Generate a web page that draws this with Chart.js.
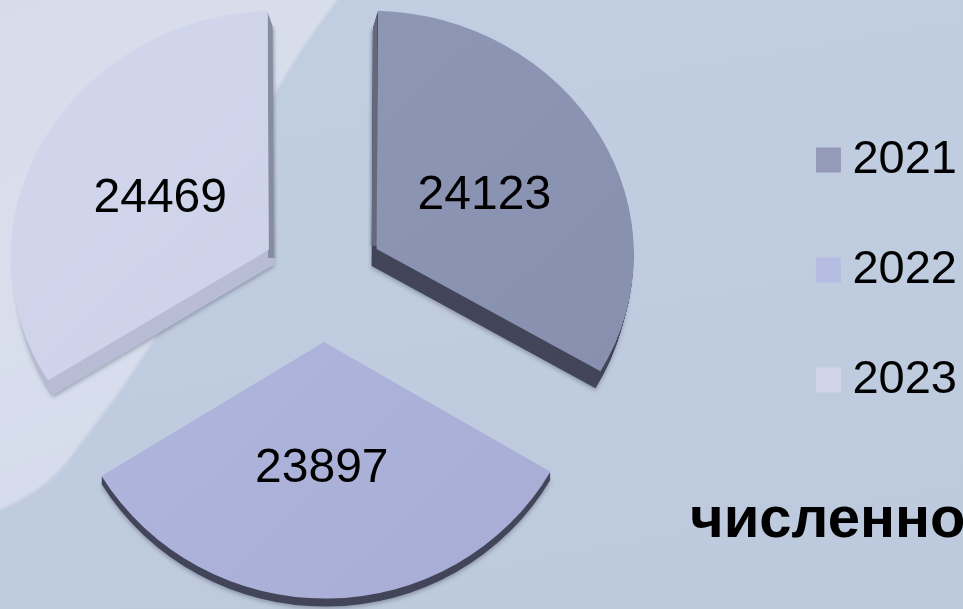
<!DOCTYPE html>
<html lang="ru">
<head>
  <meta charset="UTF-8" />
  <title>Численность</title>
  <script src="https://cdn.jsdelivr.net/npm/chart.js"></script>
  <style>
    html, body {
      margin: 0;
      width: 963px;
      height: 609px;
      overflow: hidden;
      background: linear-gradient(170deg, #c2cee1, #bfcbdf 60%, #bdc9dd);
      font-family: 'Liberation Sans', sans-serif;
    }
    #soft {
      position: absolute;
      left: -10px;
      top: -10px;
      filter: blur(1.5px);
    }
    #swoosh {
      width: 420px;
      height: 540px;
      background: linear-gradient(160deg, #d6dcea, #d8deec 45%, #d3daea);
      clip-path: path('M0 0 L355 0 L347 10 C332 30 316 52 303 73 C294 88 290 95 285 103 C245 180 200 300 157 360 C145 378 135 395 123 410 C113 424 103 438 93 450 C85 462 76 474 67 483 C55 495 43 503 30 510 C23 514 16 517 10 520 L0 525 Z');
    }
    #wrap { position: absolute; left: 0; top: 0; }
    #note {
      position: absolute;
      left: 690px;
      top: 489px;
      width: 400px;
      font-size: 58px;
      font-weight: bold;
      line-height: 56px;
      color: #000;
      white-space: nowrap;
    }
  </style>
</head>
<body>
  <div id="soft"><div id="swoosh"></div></div>
  <div id="wrap"><canvas id="pie" width="967" height="609"></canvas></div>
  <div id="note">численность</div>

  <script>
    const years = ['2021', '2022', '2023'];
    const values = [24123, 23897, 24469];
    const sliceColors = ['#8e96b6', '#b0b7de', '#d0d5ec'];
    const sliceColorsEnd = ['#8890af', '#a8aed6', '#cbd0e8'];
    const legendColors = ['#939bb9', '#b5bde2', '#cfd4ea'];
    const wallColors = ['#43465a', '#43465a', '#b8bcd4'];

    // the picture is a fake 3d pie: every slice has its own skew/squash and a side wall
    const pieX = 323, pieY = 280;
    const explode = 62;
    const widen = [1, 1.02, 1];
    const skew = [0.0226, 0.005, -0.03];
    const squash = [0.926, 1, 0.926];
    const wallShift = [[-5, 17], [0, 8], [5, 15]];

    function paintArc(arc, ctx, fill) {
      const real = arc.options;
      arc.options = Object.assign(Object.create(real), { backgroundColor: fill });
      arc.draw(ctx);
      arc.options = real;
    }

    function placeSlice(ctx, arc, i) {
      const mid = (arc.startAngle + arc.endAngle) / 2;
      ctx.translate(pieX + Math.cos(mid) * explode, pieY + Math.sin(mid) * explode);
      ctx.transform(widen[i], skew[i], 0, squash[i], 0, 0);
      ctx.translate(-arc.x - Math.cos(mid) * explode, -arc.y - Math.sin(mid) * explode);
    }

    function drawWall(ctx, arc, i, color) {
      const steps = wallShift[i][1];
      for (let s = steps; s > 0; s--) {
        ctx.save();
        ctx.translate(wallShift[i][0] * s / steps, s);
        if (s === steps) {
          ctx.shadowColor = 'rgba(40,45,70,0.35)';
          ctx.shadowBlur = 4;
          ctx.shadowOffsetY = 2;
        }
        placeSlice(ctx, arc, i);
        paintArc(arc, ctx, color);
        ctx.restore();
      }
    }

    // vertical edges of the outer slices are softer than the rest of the wall
    function drawStripe(ctx, arc, i, left, width, bottom, color) {
      ctx.save();
      ctx.beginPath();
      ctx.rect(left, 0, width, bottom);
      ctx.clip();
      drawWall(ctx, arc, i, color);
      ctx.restore();
    }

    const tiltPlugin = {
      id: 'tilt',
      beforeDatasetDraw(chart) {
        const ctx = chart.ctx;
        const arcs = chart.getDatasetMeta(0).data;
        arcs.forEach((arc, i) => {
          drawWall(ctx, arc, i, wallColors[i]);
          if (i === 0) drawStripe(ctx, arc, i, 368, 9, 246, '#666a7e');
          if (i === 2) drawStripe(ctx, arc, i, 268.5, 12, 258, '#888da2');
          ctx.save();
          placeSlice(ctx, arc, i);
          const grad = ctx.createLinearGradient(arc.x - 129, arc.y - 129, arc.x + 175, arc.y + 175);
          grad.addColorStop(0, sliceColors[i]);
          grad.addColorStop(1, sliceColorsEnd[i]);
          paintArc(arc, ctx, grad);
          ctx.restore();
        });
        return false;
      },
      afterDatasetsDraw(chart) {
        const ctx = chart.ctx;
        const arcs = chart.getDatasetMeta(0).data;
        ctx.save();
        ctx.fillStyle = '#000';
        ctx.font = '48px "Liberation Sans"';
        ctx.textAlign = 'center';
        ctx.textBaseline = 'middle';
        arcs.forEach((arc, i) => {
          const mid = (arc.startAngle + arc.endAngle) / 2;
          const r = arc.outerRadius / 2;
          const dx = Math.cos(mid) * r;
          const dy = Math.sin(mid) * r;
          const x = pieX + Math.cos(mid) * explode + dx;
          const y = pieY + Math.sin(mid) * explode + skew[i] * dx + squash[i] * dy;
          ctx.fillText(String(values[i]), i === 1 ? x - 4 : x, y + 2);
        });
        ctx.restore();
      }
    };

    new Chart(document.getElementById('pie'), {
      type: 'pie',
      data: {
        labels: years,
        datasets: [{
          data: values,
          backgroundColor: sliceColors,
          borderWidth: 0,
          offset: explode * 4,
          clip: false
        }]
      },
      options: {
        responsive: false,
        animation: false,
        radius: 249,
        layout: { padding: { bottom: 69 } },
        plugins: {
          tooltip: { enabled: false },
          legend: {
            position: 'right',
            labels: {
              color: '#000',
              font: { family: 'Liberation Sans', size: 47 },
              usePointStyle: true,
              pointStyle: 'rect',
              boxWidth: 1,
              boxHeight: 25,
              padding: 63,
              generateLabels() {
                return years.map((y, i) => ({
                  text: y,
                  fillStyle: legendColors[i],
                  strokeStyle: legendColors[i],
                  lineWidth: 0,
                  pointStyle: 'rect',
                  fontColor: '#000',
                  index: i
                }));
              }
            }
          }
        }
      },
      plugins: [tiltPlugin]
    });
  </script>
</body>
</html>
